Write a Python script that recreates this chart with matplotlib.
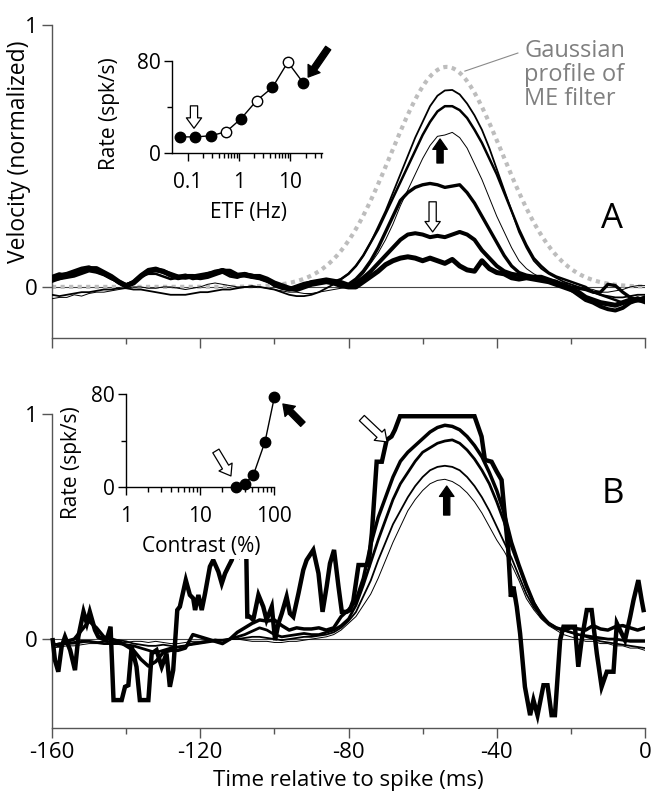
import numpy as np
import matplotlib
matplotlib.use("Agg")
import matplotlib.pyplot as plt
from matplotlib.patches import FancyArrowPatch
from matplotlib.ticker import FixedLocator, NullFormatter

plt.rcParams['font.family'] = ['Open Sans', 'DejaVu Sans']

# ---------------- data ----------------
time_ms = np.arange(-160, 1, 2)

# Panel A: ETF series (velocity traces)
A1 = [-0.03, -0.035, -0.03, -0.025, -0.02, -0.02, -0.015, -0.01, -0.01, -0.005,
      -0.005, -0.01, -0.01, -0.015, -0.02, -0.025, -0.03, -0.03, -0.03, -0.025,
      -0.02, -0.02, -0.015, -0.01, -0.01, -0.005, 0.0, 0.0, 0.0, -0.005,
      -0.01, -0.02, -0.03, -0.035, -0.035, -0.03, -0.02, -0.005, 0.01, 0.03,
      0.05, 0.08, 0.12, 0.17, 0.23, 0.29, 0.36, 0.43, 0.50, 0.57,
      0.63, 0.69, 0.73, 0.75, 0.752, 0.735, 0.70, 0.655, 0.60, 0.53,
      0.45, 0.37, 0.29, 0.21, 0.15, 0.10, 0.07, 0.05, 0.035, 0.02,
      0.01, 0.0, -0.01, -0.02, -0.03, -0.035, -0.04, -0.04, -0.035, -0.03,
      -0.03]
A2 = [0.02, 0.03, 0.035, 0.04, 0.05, 0.06, 0.055, 0.045, 0.03, 0.02,
      0.01, 0.02, 0.04, 0.05, 0.05, 0.04, 0.03, 0.035, 0.04, 0.03,
      0.035, 0.045, 0.05, 0.055, 0.04, 0.035, 0.045, 0.035, 0.03, 0.02,
      0.01, 0.0, -0.005, 0.005, 0.015, 0.02, 0.02, 0.02, 0.02, 0.03,
      0.05, 0.08, 0.12, 0.17, 0.22, 0.28, 0.34, 0.40, 0.46, 0.52,
      0.58, 0.63, 0.67, 0.69, 0.69, 0.675, 0.645, 0.60, 0.55, 0.49,
      0.43, 0.36, 0.29, 0.22, 0.16, 0.11, 0.08, 0.055, 0.04, 0.03,
      0.02, 0.01, 0.0, -0.02, -0.03, -0.04, -0.05, -0.06, -0.05, -0.04,
      -0.05]
A3 = [-0.045, -0.04, -0.04, -0.03, -0.035, -0.025, -0.02, -0.02, -0.015, -0.01,
      -0.005, 0.0, 0.0, -0.005, -0.005, 0.0, 0.0, -0.005, -0.01, -0.005,
      0.0, 0.01, 0.015, 0.01, 0.005, 0.0, 0.0, 0.005, 0.0, -0.005,
      -0.01, -0.015, -0.02, -0.02, -0.025, -0.025, -0.02, -0.015, -0.01, -0.005,
      0.0, 0.02, 0.05, 0.09, 0.13, 0.18, 0.24, 0.31, 0.37, 0.43,
      0.49, 0.54, 0.575, 0.58, 0.59, 0.57, 0.53, 0.47, 0.41, 0.34,
      0.27, 0.21, 0.15, 0.10, 0.07, 0.05, 0.035, 0.025, 0.02, 0.015,
      0.01, 0.0, -0.005, -0.01, -0.02, -0.02, -0.015, -0.01, 0.0, 0.005,
      0.005]
A4 = [0.04, 0.05, 0.04, 0.05, 0.06, 0.07, 0.065, 0.05, 0.035, 0.015,
      0.0, 0.015, 0.04, 0.06, 0.065, 0.055, 0.045, 0.04, 0.045, 0.035,
      0.04, 0.05, 0.06, 0.065, 0.05, 0.04, 0.05, 0.045, 0.035, 0.025,
      0.005, -0.005, -0.01, 0.0, 0.01, 0.02, 0.025, 0.03, 0.025, 0.02,
      0.01, 0.03, 0.06, 0.10, 0.15, 0.21, 0.27, 0.33, 0.36, 0.38,
      0.39, 0.395, 0.39, 0.38, 0.385, 0.39, 0.36, 0.32, 0.27, 0.22,
      0.17, 0.12, 0.08, 0.055, 0.045, 0.04, 0.04, 0.03, 0.02, 0.01,
      0.0, -0.005, -0.01, -0.02, -0.02, 0.01, 0.005, -0.02, -0.04, -0.05,
      -0.06]
A5 = [0.035, 0.045, 0.05, 0.06, 0.07, 0.075, 0.06, 0.05, 0.035, 0.02,
      0.005, 0.02, 0.045, 0.065, 0.07, 0.06, 0.05, 0.04, 0.035, 0.04,
      0.045, 0.05, 0.055, 0.065, 0.055, 0.045, 0.05, 0.04, 0.035, 0.025,
      0.01, 0.0, -0.01, -0.005, 0.005, 0.015, 0.02, 0.025, 0.02, 0.01,
      0.005, 0.015, 0.035, 0.06, 0.09, 0.12, 0.15, 0.18, 0.20, 0.205,
      0.20, 0.19, 0.195, 0.19, 0.20, 0.21, 0.20, 0.18, 0.14, 0.11,
      0.08, 0.06, 0.05, 0.045, 0.04, 0.035, 0.035, 0.025, 0.02, 0.005,
      -0.01, -0.03, -0.05, -0.06, -0.075, -0.085, -0.09, -0.08, -0.06, -0.05,
      -0.04]
A6 = [0.03, 0.035, 0.045, 0.05, 0.06, 0.07, 0.07, 0.055, 0.04, 0.02,
      0.005, 0.015, 0.04, 0.06, 0.065, 0.06, 0.045, 0.035, 0.04, 0.04,
      0.035, 0.04, 0.05, 0.06, 0.06, 0.045, 0.045, 0.04, 0.04, 0.03,
      0.015, 0.005, -0.005, -0.01, 0.0, 0.01, 0.015, 0.02, 0.015, 0.005,
      0.0, 0.0, 0.02, 0.04, 0.06, 0.085, 0.10, 0.11, 0.115, 0.11,
      0.10, 0.11, 0.10, 0.09, 0.105, 0.08, 0.065, 0.06, 0.10, 0.07,
      0.055, 0.05, 0.035, 0.03, 0.035, 0.03, 0.025, 0.02, 0.01, 0.0,
      -0.01, -0.02, -0.04, -0.05, -0.06, -0.065, -0.07, -0.06, -0.05, -0.05,
      -0.05]
tracesA = [A1, A2, A3, A4, A5, A6]
widthsA = [1.3, 1.8, 0.7, 2.4, 2.9, 3.6]

# Gaussian profile of ME filter (amplitude, centre ms, sigma ms)
gauss_amp, gauss_mu, gauss_sigma = 0.84, -53.5, 15.0

# Panel B: contrast series
B1_t = [-159.8, -159.2, -158.3, -157.4, -156.5, -155.1, -153.8, -152.9, -151.5, -150.6,
        -149.8, -148.4, -147.5, -145.3, -144.2, -143.4, -141.2, -140.3, -139.4, -138.5,
        -137.2, -136.3, -134.0, -133.1, -131.8, -130.4, -129.1, -128.2, -127.3, -126.2,
        -125.5, -123.9, -122.8, -121.9, -121.4, -120.5, -119.6, -118.7, -117.4, -116.5,
        -115.1, -114.2, -113.3, -112.4, -111.5, -110.5, -109.5, -108.5, -107.6, -107.3,
        -106.6, -105.7, -104.3, -103.0, -102.1, -100.7, -99.8, -98.9, -98.0, -96.7,
        -95.8, -94.9, -93.5, -92.2, -91.3, -89.5, -88.1, -87.0, -85.9, -85.0,
        -83.9, -82.7, -81.8, -80.5, -79.6, -78.7, -77.3, -74.6, -73.7, -72.4,
        -71.0, -69.7, -68.4, -67.5, -66.1, -46.0, -44.1, -43.2, -41.4, -40.0,
        -38.7, -38.05, -36.9, -36.2, -35.5, -34.6, -33.7, -32.4, -31.0, -30.1,
        -29.0, -27.4, -26.3, -25.2, -24.3, -22.9, -22.0, -18.9, -18.0, -17.1,
        -15.7, -14.4, -13.0, -11.7, -10.3, -8.5, -7.6, -6.3, -5.4, -4.0,
        -3.1, -1.8, -0.9, -0.4]
B1_v = [-0.005, -0.094, -0.145, -0.034, 0.01, -0.049, -0.138, 0.01, 0.121, 0.07,
        0.121, 0.04, 0.01, -0.005, 0.055, -0.271, -0.271, -0.212, -0.205, -0.034,
        -0.123, -0.271, -0.271, -0.064, -0.049, -0.123, -0.064, -0.212, -0.138, 0.129,
        0.144, 0.262, 0.196, 0.181, 0.129, 0.196, 0.129, 0.203, 0.322, 0.351,
        0.299, 0.247, 0.292, 0.322, 0.351, 0.42, 0.38, 0.43, 0.40, 0.10,
        0.099, 0.085, 0.196, 0.144, 0.085, 0.144, -0.005, 0.07, 0.114, 0.188,
        0.114, 0.099, 0.203, 0.307, 0.351, 0.396, 0.292, 0.121, 0.233, 0.336,
        0.396, 0.233, 0.121, 0.121, 0.129, 0.17, 0.329, 0.329, 0.47, 0.788,
        0.788, 0.885, 0.90, 0.929, 0.99, 0.99, 0.90, 0.796, 0.788, 0.744,
        0.707, 0.588, 0.396, 0.188, 0.233, 0.144, 0.025, -0.212, -0.338, -0.271,
        -0.338, -0.205, -0.205, -0.338, -0.338, -0.005, 0.055, 0.055, -0.123, -0.005,
        0.129, 0.129, -0.064, -0.212, -0.145, -0.145, 0.07, 0.025, -0.005, 0.099,
        0.173, 0.262, 0.173, 0.129]
B2 = [-0.02, -0.03, -0.01, 0.0, 0.04, 0.08, 0.05, 0.01, 0.0, -0.01,
      -0.03, -0.05, -0.09, -0.12, -0.10, -0.06, -0.05, -0.05, -0.04, 0.02,
      0.01, 0.0, -0.01, -0.02, 0.0, 0.03, 0.05, 0.07, 0.085, 0.08,
      0.085, 0.06, 0.04, 0.05, 0.045, 0.045, 0.05, 0.04, 0.05, 0.10,
      0.13, 0.17, 0.27, 0.42, 0.54, 0.63, 0.72, 0.79, 0.83, 0.86,
      0.89, 0.92, 0.94, 0.95, 0.945, 0.93, 0.90, 0.86, 0.81, 0.74,
      0.66, 0.56, 0.43, 0.33, 0.24, 0.16, 0.10, 0.07, 0.05, 0.04,
      0.05, 0.045, 0.04, 0.06, 0.045, 0.04, 0.055, 0.06, 0.05, 0.04,
      0.05]
B3 = [-0.03, -0.02, -0.02, -0.015, -0.01, -0.01, -0.015, -0.02, -0.02, -0.02,
      -0.025, -0.03, -0.04, -0.05, -0.06, -0.05, -0.04, -0.035, -0.03, -0.02,
      -0.015, -0.01, -0.005, -0.005, 0.0, 0.01, 0.02, 0.035, 0.05, 0.04,
      0.02, 0.01, 0.015, 0.02, 0.025, 0.02, 0.02, 0.03, 0.04, 0.06,
      0.09, 0.15, 0.24, 0.34, 0.44, 0.53, 0.62, 0.69, 0.74, 0.79,
      0.83, 0.85, 0.87, 0.88, 0.885, 0.87, 0.84, 0.80, 0.75, 0.69,
      0.61, 0.52, 0.41, 0.32, 0.23, 0.16, 0.11, 0.07, 0.05, 0.04,
      0.03, 0.02, 0.015, 0.01, 0.005, 0.0, 0.0, -0.005, -0.01, -0.01,
      -0.01]
B4 = [-0.02, -0.025, -0.02, -0.02, -0.015, -0.01, -0.015, -0.01, -0.01, -0.005,
      -0.01, -0.02, -0.025, -0.03, -0.03, -0.025, -0.03, -0.035, -0.03, -0.025,
      -0.02, -0.015, -0.01, -0.005, 0.0, 0.0, 0.005, 0.01, 0.01, 0.005,
      0.0, -0.005, 0.0, 0.005, 0.01, 0.01, 0.015, 0.02, 0.03, 0.05,
      0.08, 0.12, 0.19, 0.26, 0.35, 0.43, 0.51, 0.57, 0.63, 0.68,
      0.72, 0.75, 0.765, 0.77, 0.765, 0.75, 0.72, 0.68, 0.63, 0.57,
      0.50, 0.43, 0.36, 0.28, 0.20, 0.14, 0.10, 0.07, 0.05, 0.04,
      0.03, 0.02, 0.01, 0.0, -0.01, -0.015, -0.02, -0.025, -0.03, -0.035,
      -0.04]
B5 = [-0.04, -0.035, -0.03, -0.03, -0.025, -0.02, -0.02, -0.02, -0.015, -0.015,
      -0.015, -0.01, -0.01, -0.015, -0.01, -0.015, -0.02, -0.02, -0.015, -0.01,
      -0.01, -0.005, 0.0, -0.005, 0.0, 0.0, -0.005, -0.01, -0.01, -0.01,
      -0.015, -0.015, -0.01, -0.01, -0.005, 0.0, 0.005, 0.01, 0.02, 0.04,
      0.07, 0.10, 0.15, 0.20, 0.27, 0.35, 0.43, 0.50, 0.57, 0.62,
      0.66, 0.69, 0.705, 0.71, 0.70, 0.68, 0.65, 0.61, 0.56, 0.50,
      0.44, 0.39, 0.33, 0.26, 0.18, 0.13, 0.09, 0.06, 0.04, 0.02,
      0.01, 0.0, -0.01, -0.01, -0.02, -0.02, -0.03, -0.03, -0.04, -0.04,
      -0.05]
tracesB = [B2, B3, B4, B5]
widthsB = [2.5, 2.0, 1.3, 0.7]
widthB1 = 3.2

# Insets
etf_hz = [0.07, 0.14, 0.28, 0.56, 1.1, 2.2, 4.5, 9.0, 18.0]
rate_etf = [14, 14, 15, 18.5, 30, 45.5, 57, 79, 61]
filled_etf = [True, True, True, False, True, False, True, False, True]
contrast_pct = [30, 40, 52, 75, 100]
rate_contrast = [0, 3, 10, 39, 77]

# ---------------- layout ----------------
W, H = 653, 800
fig = plt.figure(figsize=(W / 100, H / 100), dpi=100)


def fbox(l, t, r, b):
    return [l / W, 1 - b / H, (r - l) / W, (b - t) / H]


SPINE = '#555555'
FS = 16


def style_main(ax):
    for s in ('top', 'right'):
        ax.spines[s].set_visible(False)
    for s in ('left', 'bottom'):
        ax.spines[s].set_color(SPINE)
        ax.spines[s].set_linewidth(1.0)
    ax.set_xlim(-160, 0)
    ax.set_xticks(np.arange(-160, 1, 40))
    ax.xaxis.set_minor_locator(FixedLocator(np.arange(-140, 0, 40)))
    ax.tick_params(axis='both', which='major', direction='out', length=7,
                   width=1.0, color=SPINE, labelsize=FS, pad=3)
    ax.tick_params(axis='x', which='minor', direction='out', length=4.5,
                   width=1.0, color=SPINE)
    ax.set_yticks([0, 1])
    ax.set_yticklabels(['0', '1'])
    ax.axhline(0, color='#444444', lw=0.8, zorder=1)


def arrow(ax, p0, p1, fill, hw, hl, tw):
    st = "simple,head_length=%g,head_width=%g,tail_width=%g" % (hl, hw, tw)
    a = FancyArrowPatch(p0, p1, arrowstyle=st, mutation_scale=1,
                        facecolor=fill, edgecolor='black', lw=0.9,
                        shrinkA=0, shrinkB=0, transform=ax.transData,
                        clip_on=False, zorder=6)
    ax.add_patch(a)


# ---- Panel A ----
axA = fig.add_axes(fbox(52, 25, 645, 338))
style_main(axA)
axA.set_ylim(-0.195, 1.0)
axA.tick_params(axis='x', labelbottom=False)
tfine = np.linspace(-160, 0, 321)
gfine = gauss_amp * np.exp(-0.5 * ((tfine - gauss_mu) / gauss_sigma) ** 2)
axA.plot(tfine, gfine, color='#bdbdbd', lw=3.0, ls=(0, (1.0, 1.05)),
         dash_capstyle='butt', zorder=2)
for tr, lw in zip(tracesA, widthsA):
    axA.plot(time_ms, tr, color='black', lw=lw, zorder=3,
             solid_joinstyle='round')
axA.plot([-34.3, -48.6], [0.893, 0.824], color='#8a8a8a', lw=0.8, zorder=4)
axA.text(-32.6, 0.945, 'Gaussian\nprofile of\nME filter', color='#808080',
         fontsize=17, ha='left', va='top', linespacing=0.98)
axA.text(-8.8, 0.26, 'A', fontsize=25, ha='center', va='center')
arrow(axA, (-55.3, 0.473), (-55.3, 0.565), 'black', 10.5, 7.5, 4.5)
arrow(axA, (-57.3, 0.325), (-57.3, 0.21), 'white', 11, 7.5, 5.2)

# ---- Panel B ----
axB = fig.add_axes(fbox(52, 414, 645, 728))
style_main(axB)
axB.set_ylim(-0.395, 1.0)
axB.set_xticklabels(['-160', '-120', '-80', '-40', '0'])
axB.set_xlabel('Time relative to spike (ms)', fontsize=FS, labelpad=5)
for tr, lw in zip(tracesB, widthsB):
    axB.plot(time_ms, tr, color='black', lw=lw, zorder=3,
             solid_joinstyle='round')
axB.plot(B1_t, B1_v, color='black', lw=widthB1, zorder=4,
         solid_joinstyle='miter', clip_on=False)
axB.text(-8.8, 0.645, 'B', fontsize=25, ha='center', va='center')
arrow(axB, (-53.5, 0.551), (-53.5, 0.68), 'black', 10.5, 7.5, 4.5)
arrow(axB, (-76.4, 0.982), (-69.6, 0.876), 'white', 11, 7.5, 5.2)

fig.text(19 / W, 1 - 152 / H, 'Velocity (normalized)', rotation=90,
         fontsize=16.5, ha='center', va='center')


# ---- Insets ----
def style_inset(ax):
    for s in ('top', 'right'):
        ax.spines[s].set_visible(False)
    for s in ('left', 'bottom'):
        ax.spines[s].set_color('black')
        ax.spines[s].set_linewidth(1.0)
    ax.set_xscale('log')
    ax.set_ylim(0, 80)
    ax.set_yticks([0, 80])
    ax.set_yticklabels(['0', '80'])
    ax.yaxis.set_minor_locator(FixedLocator([40]))
    ax.tick_params(axis='both', which='major', direction='out', length=6,
                   width=1.0, labelsize=15, pad=2)
    ax.tick_params(axis='x', which='major', pad=8)
    ax.tick_params(axis='both', which='minor', direction='out', length=3.5,
                   width=1.0)
    ax.xaxis.set_minor_formatter(NullFormatter())
    ax.patch.set_alpha(0)


inA = fig.add_axes(fbox(172, 61, 322, 153))
style_inset(inA)
inA.set_xlim(0.0486, 42)
inA.set_xticks([0.1, 1, 10])
inA.set_xticklabels(['0.1', '1', '10'])
inA.xaxis.set_minor_locator(FixedLocator(
    [0.2, 0.3, 0.4, 0.5, 0.6, 0.7, 0.8, 0.9, 2, 3, 4, 5, 6, 7, 8, 9, 20, 30, 40]))
inA.plot(etf_hz, rate_etf, color='black', lw=1.0, zorder=3, clip_on=False)
for x, y, f in zip(etf_hz, rate_etf, filled_etf):
    inA.plot([x], [y], 'o', ms=7.5, mfc='black' if f else 'white',
             mec='black', mew=1.0, zorder=4, clip_on=False)
inA.set_xlabel('ETF (Hz)', fontsize=15)
inA.set_ylabel('Rate (spk/s)', fontsize=15)
inA.xaxis.set_label_coords(0.507, -0.53)
inA.yaxis.set_label_coords(-0.35, 0.43)
arrow(inA, (0.131, 41), (0.131, 21.5), 'white', 11, 7.5, 5.2)
arrow(inA, (55.6, 91.3), (22.5, 66), 'black', 10.5, 7.5, 4.5)

inB = fig.add_axes(fbox(126, 394, 274.3, 487))
style_inset(inB)
inB.set_xlim(1, 100)
inB.set_xticks([1, 10, 100])
inB.set_xticklabels(['1', '10', '100'])
inB.xaxis.set_minor_locator(FixedLocator(
    [2, 3, 4, 5, 6, 7, 8, 9, 20, 30, 40, 50, 60, 70, 80, 90]))
inB.plot(contrast_pct, rate_contrast, color='black', lw=1.0, zorder=3,
         clip_on=False)
inB.plot(contrast_pct, rate_contrast, 'o', ms=7.5, mfc='black', mec='black',
         zorder=4, clip_on=False)
inB.set_xlabel('Contrast (%)', fontsize=15,
               bbox=dict(facecolor='white', edgecolor='none', pad=1.0))
inB.set_ylabel('Rate (spk/s)', fontsize=15)
inB.xaxis.set_label_coords(0.51, -0.53)
inB.yaxis.set_label_coords(-0.30, 0.26)
arrow(inB, (16.3, 31), (26.0, 9.5), 'white', 11, 7.5, 5.2)
arrow(inB, (243, 54), (130.6, 71.4), 'black', 10.5, 7.5, 4.5)

fig.savefig('out.png', dpi=100, facecolor='white')
